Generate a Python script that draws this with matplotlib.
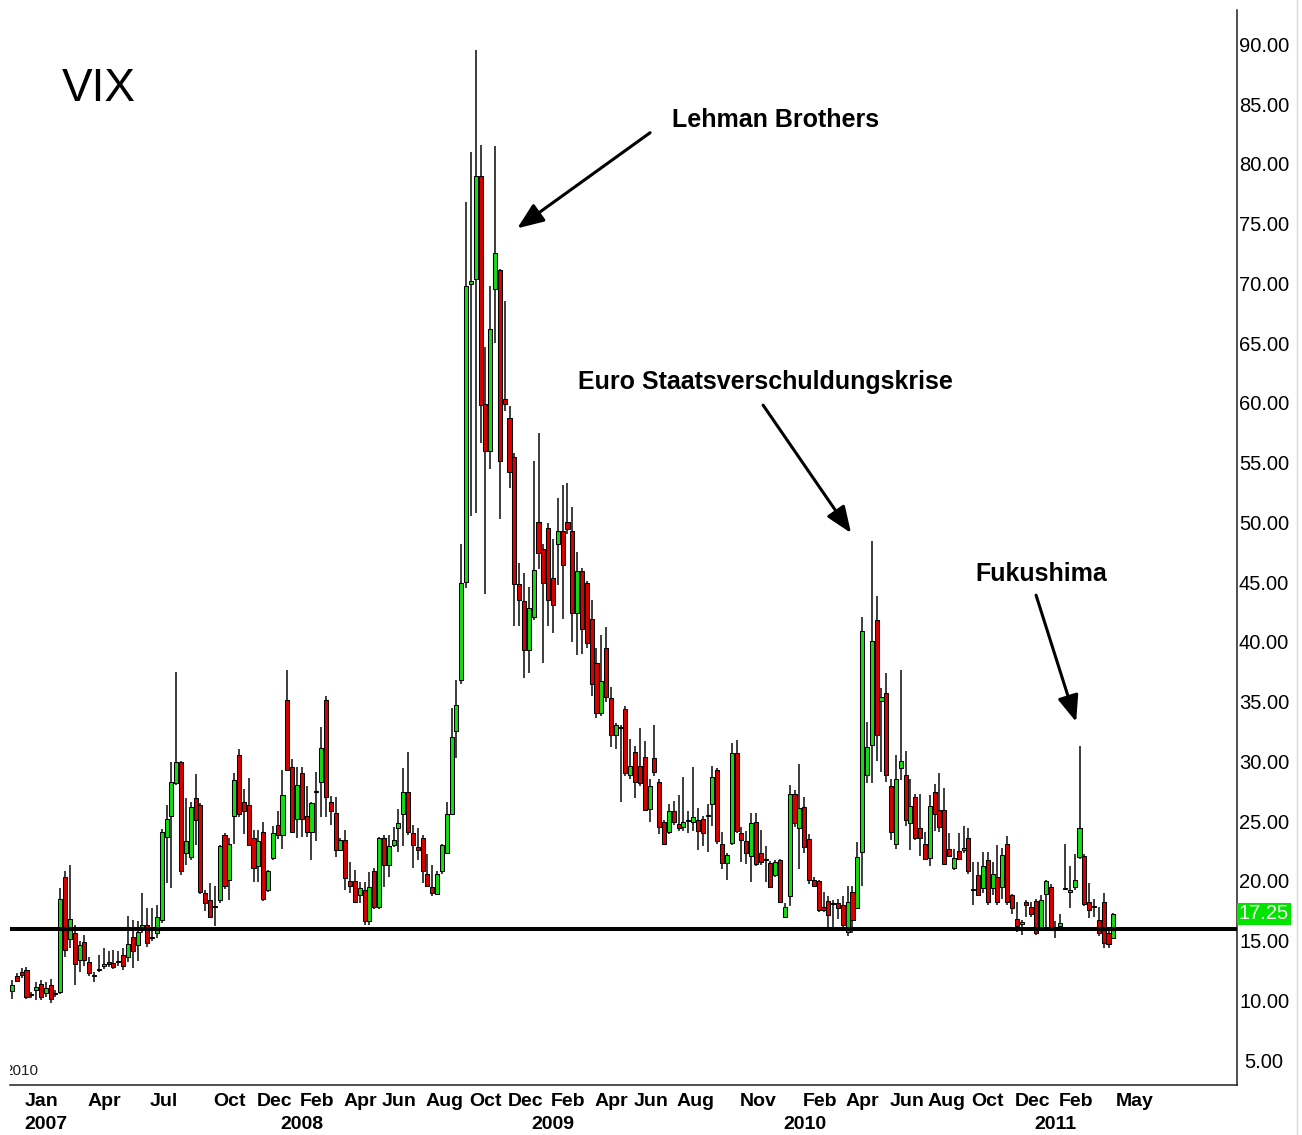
import numpy as np
import pandas as pd
import matplotlib
matplotlib.use('Agg')
import matplotlib.pyplot as plt
from matplotlib.transforms import blended_transform_factory

plt.rcParams['font.family'] = ['Liberation Sans', 'DejaVu Sans']

# weekly VIX candles, first week starts 2006-12-18
open_ = [10.8, 12.0, 12.4, 12.5, 10.5, 10.9, 11.4, 10.6, 11.3, 10.5,
         10.7, 20.3, 15.1, 15.6, 13.4, 14.9, 13.2, 12.0, 12.5, 12.9,
         13.2, 13.1, 13.2, 13.8, 13.6, 15.3, 14.6, 16.0, 16.3, 15.2,
         15.6, 16.7, 23.7, 25.4, 28.2, 29.9, 22.3, 22.0, 26.9, 26.3,
         19.0, 18.4, 17.8, 18.4, 23.8, 20.1, 25.4, 30.5, 26.6, 26.3,
         23.55, 21.2, 24.1, 19.2, 21.9, 24.7, 23.8, 35.1, 29.5, 25.2,
         29.0, 25.4, 24.1, 27.4, 28.3, 35.1, 26.6, 25.7, 22.6, 23.4,
         20.0, 20.0, 18.8, 19.2, 16.6, 20.8, 17.8, 23.55, 21.3, 23.0,
         24.4, 25.6, 27.45, 24.0, 22.85, 23.55, 20.6, 19.5, 18.9, 20.8,
         22.3, 25.6, 32.5, 36.8, 45.0, 69.95, 70.35, 79.0, 59.9, 56.0,
         69.5, 71.1, 60.35, 58.7, 55.5, 44.8, 43.4, 39.3, 42.1, 50.0,
         47.8, 49.5, 45.3, 48.2, 49.3, 50.0, 49.3, 42.4, 45.9, 44.9,
         41.9, 38.2, 34.0, 39.45, 35.3, 32.2, 32.8, 34.4, 28.85, 30.8,
         29.6, 30.4, 26.0, 30.3, 28.3, 24.95, 24.1, 25.8, 24.75, 24.5,
         25.0, 24.95, 25.1, 25.2, 25.4, 26.4, 29.3, 23.1, 21.5, 23.2,
         30.7, 24.0, 23.3, 22.1, 24.95, 22.3, 21.7, 21.5, 20.5, 21.7,
         17.0, 18.7, 27.3, 24.4, 26.15, 23.5, 20.1, 20.0, 17.8, 18.3,
         18.1, 18.1, 18.0, 15.7, 19.1, 17.7, 22.4, 28.85, 31.35, 41.8,
         35.05, 35.7, 27.9, 23.1, 29.4, 28.85, 24.8, 27.0, 24.4, 23.1,
         21.9, 27.4, 25.9, 25.9, 22.7, 21.1, 22.5, 22.6, 23.55, 19.2,
         20.5, 19.4, 21.7, 19.4, 20.3, 19.5, 23.1, 18.8, 16.8, 16.4,
         18.2, 17.8, 18.3, 16.0, 18.9, 19.5, 15.9, 16.2, 19.3, 19.1,
         19.45, 22.0, 22.1, 18.25, 17.9, 16.7, 18.25, 15.6, 15.2]
high = [11.7, 12.3, 12.7, 12.8, 10.7, 11.55, 11.7, 11.5, 11.8, 10.9,
        19.4, 20.8, 21.3, 16.3, 15.0, 15.5, 13.6, 12.4, 13.8, 14.4,
        14.1, 14.2, 14.1, 14.4, 17.05, 16.7, 16.6, 19.0, 17.7, 17.7,
        18.0, 24.3, 26.3, 29.9, 37.5, 30.0, 26.9, 26.6, 28.9, 26.5,
        19.2, 19.8, 19.6, 23.0, 24.0, 23.6, 29.0, 31.0, 27.7, 28.6,
        24.25, 24.25, 24.9, 20.9, 24.6, 25.8, 29.3, 37.6, 30.2, 29.5,
        29.5, 27.9, 26.6, 29.1, 32.9, 35.5, 27.1, 27.0, 23.55, 24.25,
        21.6, 20.9, 19.9, 19.9, 20.7, 21.1, 23.7, 23.8, 23.8, 24.5,
        26.0, 29.4, 30.8, 24.7, 24.4, 23.8, 22.2, 21.3, 20.8, 23.1,
        26.6, 34.5, 36.8, 48.2, 76.8, 81.0, 89.5, 81.6, 64.7, 69.8,
        81.5, 71.2, 68.5, 59.7, 55.8, 46.6, 45.75, 44.6, 55.1, 57.5,
        48.2, 49.9, 48.6, 52.0, 53.1, 53.3, 51.3, 47.5, 46.2, 45.1,
        43.5, 39.5, 40.6, 41.2, 36.2, 33.2, 33.0, 34.6, 31.9, 31.3,
        32.75, 31.7, 28.5, 33.0, 28.5, 25.1, 26.4, 26.7, 27.2, 28.7,
        25.8, 29.5, 26.1, 25.4, 26.4, 29.6, 29.4, 24.1, 22.3, 31.55,
        31.8, 24.5, 24.2, 25.7, 25.7, 24.25, 22.9, 21.65, 21.75, 21.8,
        18.1, 28.0, 27.6, 29.8, 27.05, 23.9, 20.3, 20.1, 19.1, 18.7,
        18.4, 18.5, 18.7, 19.6, 19.6, 23.25, 42.1, 33.3, 48.4, 43.8,
        36.1, 37.4, 28.5, 30.5, 37.6, 30.9, 28.5, 27.3, 27.3, 24.05,
        27.2, 28.1, 29.0, 27.8, 24.0, 22.7, 24.0, 24.6, 24.4, 21.6,
        21.6, 22.4, 22.4, 21.6, 23.0, 22.75, 23.75, 18.9, 18.25, 16.7,
        18.4, 18.2, 18.5, 18.8, 20.1, 19.7, 16.6, 17.2, 23.1, 21.2,
        22.2, 31.3, 22.2, 19.8, 18.5, 17.8, 19.0, 16.0, 17.3]
low = [10.1, 11.5, 11.9, 10.1, 10.2, 10.0, 10.0, 10.3, 9.8, 10.3,
       10.5, 13.6, 14.4, 11.3, 12.4, 12.9, 12.0, 11.55, 12.4, 12.6,
       12.8, 12.6, 12.9, 12.5, 13.2, 12.7, 13.3, 15.6, 14.5, 15.0,
       15.2, 16.5, 19.8, 19.4, 28.0, 20.5, 21.3, 21.7, 23.0, 18.9,
       17.5, 16.9, 16.2, 18.1, 19.3, 18.4, 23.1, 25.3, 23.9, 22.9,
       19.9, 19.9, 18.3, 19.1, 21.7, 23.5, 22.7, 29.2, 24.0, 23.55,
       23.7, 23.7, 21.7, 23.3, 25.3, 25.3, 24.7, 22.0, 22.5, 19.2,
       19.0, 18.1, 18.1, 16.3, 16.3, 17.6, 17.6, 19.5, 20.3, 22.8,
       22.4, 22.9, 23.8, 21.1, 21.7, 19.8, 19.45, 18.7, 18.8, 20.55,
       22.2, 25.5, 30.3, 36.5, 44.5, 50.5, 50.8, 56.6, 44.0, 54.5,
       65.0, 50.3, 59.3, 52.9, 41.3, 41.3, 37.0, 37.4, 41.8, 46.1,
       38.2, 41.3, 40.7, 44.75, 41.9, 49.0, 40.0, 38.9, 39.0, 39.5,
       35.5, 33.6, 33.8, 35.0, 31.2, 31.0, 26.6, 28.8, 28.5, 26.9,
       27.9, 25.8, 24.9, 28.8, 23.95, 23.05, 23.9, 24.7, 24.2, 24.2,
       24.0, 24.2, 22.6, 22.9, 22.4, 24.6, 23.1, 21.0, 20.1, 23.0,
       24.0, 21.6, 21.4, 19.9, 21.2, 21.3, 19.9, 19.4, 20.3, 18.1,
       16.85, 17.9, 24.5, 21.0, 22.3, 19.7, 19.5, 17.4, 17.4, 16.1,
       16.1, 16.8, 16.1, 15.4, 15.6, 17.6, 19.6, 28.2, 28.2, 30.0,
       29.1, 28.3, 23.4, 22.7, 28.4, 24.6, 22.6, 23.4, 22.1, 21.75,
       21.2, 24.2, 24.1, 21.3, 22.0, 20.9, 21.75, 22.3, 20.6, 18.0,
       18.7, 19.0, 18.0, 18.8, 18.0, 18.5, 18.0, 17.2, 15.7, 15.5,
       17.0, 17.0, 15.5, 15.8, 16.0, 15.8, 15.2, 16.0, 19.2, 17.7,
       19.2, 21.8, 17.9, 16.9, 17.0, 15.4, 14.4, 14.4, 15.1]
close = [11.3, 11.6, 12.1, 10.3, 10.4, 11.1, 10.3, 11.0, 10.1, 10.6,
         18.5, 14.2, 16.8, 13.0, 14.6, 13.4, 12.3, 12.05, 12.6, 13.0,
         13.0, 12.8, 13.3, 12.9, 14.7, 14.1, 15.7, 16.3, 14.8, 15.3,
         17.0, 24.1, 25.2, 28.3, 29.9, 20.8, 23.3, 26.2, 25.1, 19.1,
         18.1, 17.0, 17.85, 22.9, 19.6, 23.1, 28.4, 25.6, 25.8, 23.0,
         21.05, 23.3, 18.5, 20.8, 24.0, 23.8, 27.2, 29.3, 24.1, 28.0,
         25.2, 24.1, 26.5, 27.5, 31.1, 27.0, 25.8, 22.6, 23.4, 20.2,
         19.6, 18.25, 19.4, 16.6, 19.5, 17.8, 23.55, 21.3, 22.9, 23.4,
         24.8, 27.45, 24.1, 23.0, 22.6, 20.8, 19.6, 18.95, 20.6, 23.0,
         25.6, 32.05, 34.7, 44.9, 69.8, 70.2, 79.0, 59.8, 56.0, 66.2,
         72.5, 55.1, 59.9, 54.2, 44.8, 43.5, 39.3, 42.8, 46.0, 47.4,
         44.9, 43.5, 43.1, 49.3, 46.4, 49.4, 42.4, 45.9, 41.1, 39.9,
         36.5, 34.0, 36.7, 35.4, 32.2, 33.0, 32.75, 29.0, 29.6, 28.3,
         28.2, 25.9, 27.9, 29.1, 24.5, 23.1, 25.8, 24.95, 24.4, 24.95,
         25.05, 25.3, 24.2, 24.0, 25.5, 28.7, 23.3, 21.5, 22.15, 30.7,
         24.2, 23.4, 22.3, 24.8, 21.4, 21.6, 21.75, 19.5, 21.6, 18.2,
         17.8, 27.3, 24.8, 26.1, 22.85, 20.1, 19.6, 17.55, 17.55, 17.1,
         18.05, 17.7, 16.3, 18.25, 16.7, 22.0, 40.9, 31.2, 40.1, 32.2,
         35.35, 28.85, 24.1, 28.5, 30.05, 25.1, 26.25, 23.55, 23.55, 21.8,
         26.25, 25.6, 24.5, 21.4, 22.1, 21.9, 21.8, 22.65, 20.8, 19.25,
         18.8, 21.2, 18.25, 20.6, 18.2, 22.15, 18.25, 17.7, 16.2, 16.45,
         18.0, 17.2, 15.6, 18.4, 20.0, 16.0, 15.95, 16.45, 19.35, 19.15,
         20.1, 24.4, 18.05, 17.55, 17.8, 15.6, 14.8, 14.75, 17.25]

first_week = '2006-12-18'
weeks = pd.date_range(first_week, periods=len(close), freq='7D')

# axis labels: month row and year row (years sit at the January bar)
month_labels = [('2007-01', 'Jan'), ('2007-04', 'Apr'), ('2007-07', 'Jul'),
                ('2007-10', 'Oct'), ('2007-12', 'Dec'), ('2008-02', 'Feb'),
                ('2008-04', 'Apr'), ('2008-06', 'Jun'), ('2008-08', 'Aug'),
                ('2008-10', 'Oct'), ('2008-12', 'Dec'), ('2009-02', 'Feb'),
                ('2009-04', 'Apr'), ('2009-06', 'Jun'), ('2009-08', 'Aug'),
                ('2009-11', 'Nov'), ('2010-02', 'Feb'), ('2010-04', 'Apr'),
                ('2010-06', 'Jun'), ('2010-08', 'Aug'), ('2010-10', 'Oct'),
                ('2010-12', 'Dec'), ('2011-02', 'Feb'), ('2011-05', 'May')]
year_labels = ['2007', '2008', '2009', '2010', '2011']

price_ticks = np.arange(5, 95, 5)
support_level = 16
last_price = 17.25

W, H = 1302, 1135
fig = plt.figure(figsize=(W / 100, H / 100), dpi=100)
ax_l, ax_r, ax_t, ax_b = 10, 1237, 10, 1085
ax = fig.add_axes([ax_l / W, 1 - ax_b / H, (ax_r - ax_l) / W, (ax_b - ax_t) / H])

o = np.array(open_)
c = np.array(close)
x = np.arange(len(c))
up = c >= o
body_lo = np.minimum(o, c)
body_h = np.maximum(np.abs(c - o), 0.12)

ax.vlines(x, low, high, color='#262626', lw=1.25, zorder=2)
ax.bar(x[up], body_h[up], bottom=body_lo[up], width=0.84,
       color='#14dc14', edgecolor='black', linewidth=0.75, zorder=3)
ax.bar(x[~up], body_h[~up], bottom=body_lo[~up], width=0.84,
       color='#d80000', edgecolor='black', linewidth=0.75, zorder=3)

ax.axhline(support_level, color='black', lw=2.9, zorder=5)

# scales
ax.set_xlim(-0.41, 253.6)
ax.set_ylim(2.91, 92.87)

for s in ['left', 'top']:
    ax.spines[s].set_visible(False)
for s in ['right', 'bottom']:
    ax.spines[s].set_linewidth(1.1)
    ax.spines[s].set_color('#202020')

# price axis on the right
ax.yaxis.tick_right()
ax.set_yticks(price_ticks)
ax.set_yticklabels([f'{v:.2f}' for v in price_ticks])
ax.tick_params(axis='y', length=0, pad=19.5, labelsize=14.5)
for lbl in ax.get_yticklabels():
    lbl.set_ha('center')

ax.text(1.0219, last_price, f'{last_price:.2f}', color='white', fontsize=14.5,
        ha='center', va='center', transform=blended_transform_factory(ax.transAxes, ax.transData),
        bbox=dict(boxstyle='square,pad=0.08', fc='#00e400', ec='none'), clip_on=False, zorder=6)

# month labels as ticks, years in a second row
pos = [int(np.searchsorted(weeks, pd.Timestamp(m + '-01'))) + 0.6 for m, _ in month_labels]
ax.set_xticks(pos)
ax.set_xticklabels([n for _, n in month_labels], ha='left', fontsize=14, fontweight='bold')
ax.tick_params(axis='x', length=0, pad=5.5)

below = blended_transform_factory(ax.transData, ax.transAxes)
for y in year_labels:
    i = int(np.searchsorted(weeks, pd.Timestamp(y + '-01-01')))
    ax.text(i + 0.6, -0.0363, y, fontsize=14, fontweight='bold', ha='left', va='center',
            transform=below, clip_on=False)

# clipped label at the lower left
ax.text(-0.005, 0.013, '2010', fontsize=11, color='#202020', ha='left', va='center',
        transform=ax.transAxes, clip_on=True)

ax.text(10.4, 86.3, 'VIX', fontsize=33, ha='left', va='center')

arrow = dict(arrowstyle='-|>,head_length=0.8,head_width=0.32', lw=2.2, color='black',
             mutation_scale=20, shrinkA=0, shrinkB=0)
ax.text(136.6, 83.7, 'Lehman Brothers', fontsize=18, fontweight='bold', ha='left', va='center')
ax.annotate('', xy=(104.6, 74.6), xytext=(132.1, 82.6), arrowprops=arrow)
ax.text(117.2, 61.7, 'Euro Staatsverschuldungskrise', fontsize=18, fontweight='bold',
        ha='left', va='center')
ax.annotate('', xy=(173.7, 49.1), xytext=(155.5, 59.8), arrowprops=arrow)
ax.text(199.4, 45.7, 'Fukushima', fontsize=18, fontweight='bold', ha='left', va='center')
ax.annotate('', xy=(220.3, 33.3), xytext=(212.0, 43.9), arrowprops=arrow)

fig.add_artist(plt.Line2D([1296.5 / W, 1296.5 / W], [0, 1], color='#d8d8d8', lw=1))

fig.savefig('out.png', dpi=100)
